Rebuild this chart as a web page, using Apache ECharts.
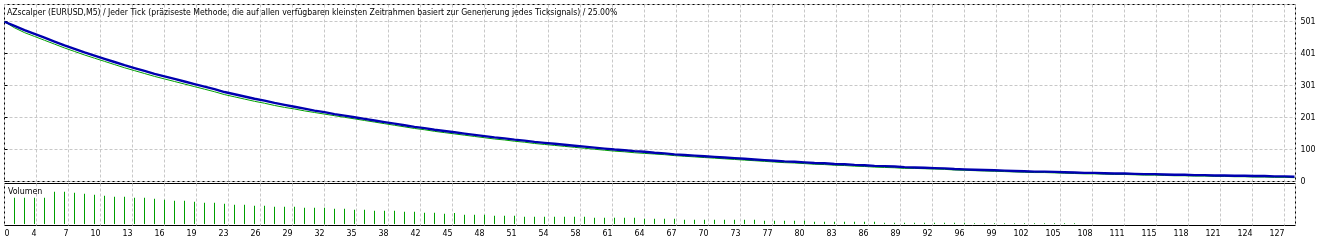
<!DOCTYPE html>
<html><head><meta charset="utf-8">
<script src="https://cdn.jsdelivr.net/npm/echarts@6/dist/echarts.min.js"></script>
<style>html,body{margin:0;padding:0;background:#fff}#c{width:1340px;height:242px}</style>
</head><body><div id="c"></div>
<script>
const titleText = 'AZscalper (EURUSD,M5) / Jeder Tick (präziseste Methode, die auf allen verfügbaren kleinsten Zeitrahmen basiert zur Generierung jedes Ticksignals) / 25.00%';
const volumeLabel = 'Volumen';
const xTickLabels = ['0','4','7','10','13','16','19','23','26','29','32','35','38','42','45','48','51','54','58','61','64','67','70','73','77','80','83','86','89','92','96','99','102','105','108','111','115','118','121','124','127'];
const yTickLabels = ['0','100','201','301','401','501'];
// balance per trade (trade 0..129)
const balance = [500,487,474,462,450,438,426,415,404,394,384,374,364,355,346,337,329,321,313,305,
297,289,280,273,266,259,253,246,240,234,228,222,217,211,206,201,196,191,186,181,
176,171,167,162,158,154,150,146,142,138,135,131,128,124,121,118,115,112,109,106,
103,100,98,95,93,90,88,85,83,81,79,77,75,73,71,69,67,65,63,62,
60,58,57,55,54,52,51,49,48,47,45,44,43,42,41,39,38,37,36,35,
34,33,32,31,31,30,29,28,27,27,26,25,25,24,23,23,22,21,21,20,
20,19,19,18,18,17,17,16,16,15];
// equity per trade
const equity = [500,481,466,454,442,430,418,407,396,386,376,366,356,347,338,329,321,313,305,297,
289,281,272,265,258,251,245,238,232,227,221,216,211,206,201,196,191,186,181,176,
171,166,162,157,153,149,145,141,137,133,130,126,123,119,116,113,110,107,104,101,
98,95,93,90,88,86,84,81,79,77,75,73,71,69,67,65,63,61,59,58,
56,54,53,51,50,48,47,45,44,43,41,41,40,39,38,36,35,34,33,32,
31,30,29,28,28,27,26,25,24,24,23,22,22,21,20,20,19,18,18,17,
17,16,16,15,15,14,14,13,13,12];
// volume per trade (trade 1..107)
const volume = [26.3,26.3,26.3,26.3,32.3,32.3,31.3,30.3,29.3,28.3,27.3,27.3,26.3,26.3,25.3,24.3,23.3,23.3,22.3,21.3,
21.3,20.3,19.3,19.3,18.3,18.3,17.3,17.3,17.3,16.3,16.3,16.3,15.3,15.3,14.3,14.3,13.3,13.3,13.3,12.3,
12.3,11.3,11.3,10.3,11,9.3,9.3,9.3,8.3,8.3,8.3,7.3,7.3,7.3,7.3,7.3,7.3,7.3,6.3,6.3,
6.3,6.3,6.3,5.3,5.3,5.3,5.3,4.3,4.3,4.3,4.3,4.3,4.3,4.3,4.3,3.3,3.3,3.3,3.3,3.3,
2.3,2.3,2.3,2.3,2.3,2.3,2.3,1.3,1.3,1.3,1.3,1.3,1.3,1.3,1.3,1.3,0.7,0.7,0.7,0.7,
0.7,0.7,0.7,0.7,0.7,0.7,0.7];

const FONT = '"DejaVu Sans Condensed", "DejaVu Sans", sans-serif';
const X_STEP = 3.2, X_MAX = 129.1, Y_STEP = 100.25, Y_MAX = 554;
const gridLine = {show: true, lineStyle: {color: '#c8c8c8', type: [3, 2], width: 1}};
function xLabel(v) {
  const k = Math.round(v / X_STEP);
  return (Math.abs(v - k * X_STEP) < 0.01 && k < xTickLabels.length) ? xTickLabels[k] : '';
}
function yLabel(v) {
  const k = Math.round(v / Y_STEP);
  return (Math.abs(v - k * Y_STEP) < 0.01 && k < yTickLabels.length) ? yTickLabels[k] : '';
}
const chart = echarts.init(document.getElementById('c'), null, {renderer: 'canvas'});
chart.setOption({
  animation: false,
  backgroundColor: '#fff',
  title: [
    {text: titleText, left: 7, top: 8, padding: 0, textStyle: {fontSize: 8.6, fontWeight: 'normal', color: '#000', fontFamily: FONT}},
    {text: volumeLabel, left: 8, top: 187, padding: 0, textStyle: {fontSize: 8.8, fontWeight: 'normal', color: '#000', fontFamily: FONT}}
  ],
  grid: [
    {left: 4.5, top: 4.5, width: 1291, height: 177, show: true, borderColor: '#000', borderWidth: 1, outerBoundsMode: 'none', containLabel: false},
    {left: 4.5, top: 183.5, width: 1291, height: 42, show: true, borderColor: '#000', borderWidth: 1, outerBoundsMode: 'none', containLabel: false}
  ],
  xAxis: [
    {type: 'value', gridIndex: 0, min: 0, max: X_MAX, interval: X_STEP, axisLine: {show: false}, axisTick: {show: false}, axisLabel: {show: false}, splitLine: gridLine},
    {type: 'value', gridIndex: 1, min: 0, max: X_MAX, interval: X_STEP, axisLine: {show: false}, axisTick: {show: false},
      axisLabel: {show: true, formatter: xLabel, align: 'right', alignMinLabel: 'left', margin: 4, color: '#000', fontSize: 8.8, fontFamily: FONT, showMaxLabel: false},
      splitLine: gridLine}
  ],
  yAxis: [
    {type: 'value', gridIndex: 0, position: 'right', min: 0, max: Y_MAX, interval: Y_STEP, axisLine: {show: false},
      axisTick: {show: true, length: 3, lineStyle: {color: '#000'}},
      axisLabel: {show: true, formatter: yLabel, margin: 5, color: '#000', fontSize: 8.8, fontFamily: FONT, showMaxLabel: false},
      splitLine: gridLine},
    {type: 'value', gridIndex: 1, position: 'right', min: -1.5, max: 40.5, axisLine: {show: false}, axisTick: {show: false}, axisLabel: {show: false}, splitLine: {show: false}}
  ],
  series: [
    {type: 'line', name: 'Equity', xAxisIndex: 0, yAxisIndex: 0, data: equity.map((v, i) => [i, v]), showSymbol: false, symbol: 'none',
      lineStyle: {color: '#00a000', width: 1}, z: 2},
    {type: 'line', name: 'Balance', xAxisIndex: 0, yAxisIndex: 0, data: balance.map((v, i) => [i, v]), showSymbol: false, symbol: 'none',
      lineStyle: {color: '#0000b0', width: 2.4}, z: 3},
    {type: 'bar', name: 'Volumen', xAxisIndex: 1, yAxisIndex: 1, data: volume.map((v, i) => [i + 1, v]), barWidth: 1,
      itemStyle: {color: '#00a000'}, z: 2}
  ]
});
</script></body></html>
